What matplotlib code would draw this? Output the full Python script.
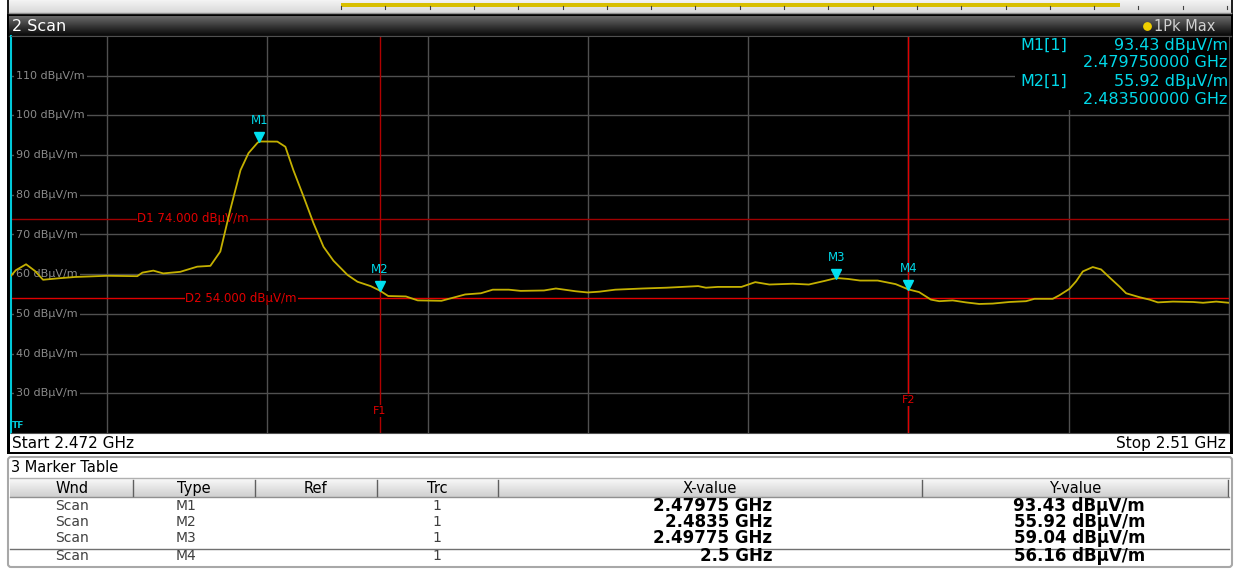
import numpy as np
import matplotlib
matplotlib.use("Agg")
import matplotlib.pyplot as plt
from matplotlib.patches import Rectangle, FancyBboxPatch
import matplotlib.transforms as mtransforms

plt.rcParams['font.family'] = ['DejaVu Sans']

# ---------------- data ----------------
freq_ghz = [2.4720, 2.47215, 2.47247, 2.47275, 2.4730, 2.47353, 2.4740, 2.4750, 2.47594, 2.47610,
            2.47644, 2.47675, 2.47728, 2.47781, 2.47822, 2.47853, 2.47884, 2.47916, 2.47941, 2.47969,
            2.47975, 2.48031, 2.48056, 2.48081, 2.48113, 2.48144, 2.48175, 2.48206, 2.48250, 2.48281,
            2.48322, 2.48350, 2.48377, 2.48432, 2.48469, 2.48543, 2.48580, 2.48617, 2.48666, 2.48703,
            2.48753, 2.48790, 2.48863, 2.48900, 2.48962, 2.48999, 2.49036, 2.49085, 2.49171, 2.49245,
            2.49344, 2.49368, 2.49405, 2.49479, 2.49522, 2.49566, 2.49639, 2.49689, 2.49738, 2.49775,
            2.49812, 2.49849, 2.49904, 2.49960, 2.50000, 2.50033, 2.50070, 2.50096, 2.50138, 2.50179,
            2.50221, 2.50263, 2.50315, 2.50367, 2.50393, 2.50450, 2.50471, 2.50502, 2.50523, 2.50544,
            2.50575, 2.50601, 2.50627, 2.50658, 2.50679, 2.50721, 2.50752, 2.50778, 2.50825, 2.50888,
            2.50919, 2.50960, 2.51000]
level_dbuv = [59.6, 61.0, 62.5, 60.8, 58.6, 59.0, 59.3, 59.6, 59.5, 60.4,
              60.9, 60.2, 60.6, 61.9, 62.1, 65.7, 76.2, 86.2, 90.5, 93.1,
              93.43, 93.4, 92.1, 86.2, 79.5, 72.8, 66.9, 63.4, 59.8, 58.1,
              57.0, 55.9, 54.5, 54.4, 53.4, 53.3, 54.1, 54.9, 55.2, 56.1,
              56.1, 55.8, 55.9, 56.4, 55.7, 55.4, 55.6, 56.1, 56.4, 56.6,
              57.0, 56.6, 56.8, 56.8, 58.0, 57.4, 57.6, 57.4, 58.3, 59.04,
              58.8, 58.4, 58.4, 57.5, 56.16, 55.5, 53.6, 53.2, 53.4, 52.9,
              52.5, 52.6, 53.0, 53.2, 53.8, 53.8, 54.7, 56.3, 58.2, 60.7,
              61.8, 61.2, 59.2, 56.9, 55.2, 54.2, 53.6, 52.9, 53.1, 53.0,
              52.8, 53.1, 52.8]

marker_names = ["M1", "M2", "M3", "M4"]
marker_freq = [2.47975, 2.4835, 2.49775, 2.5]
marker_level = [93.43, 55.92, 59.04, 56.16]
marker_xtext = ["2.47975 GHz", "2.4835 GHz", "2.49775 GHz", "2.5 GHz"]
marker_ytext = ["93.43 dBµV/m", "55.92 dBµV/m", "59.04 dBµV/m", "56.16 dBµV/m"]

limit_names = ["D1", "D2"]
limit_levels = [74.0, 54.0]
freq_lines = ["F1", "F2"]
freq_line_vals = [2.4835, 2.5]

x_start, x_stop = 2.472, 2.51
y_min, y_max = 20, 120
y_ticks = [30, 40, 50, 60, 70, 80, 90, 100, 110]
x_grid = [2.475, 2.480, 2.485, 2.490, 2.495, 2.500, 2.505, 2.510]

table_cols = ["Wnd", "Type", "Ref", "Trc", "X-value", "Y-value"]

# ---------------- figure ----------------
W, H = 1237, 569
fig = plt.figure(figsize=(W / 100, H / 100), dpi=100)
fig.patch.set_facecolor("white")

bg = fig.add_axes([0, 0, 1, 1], zorder=0)
bg.set_xlim(0, W)
bg.set_ylim(H, 0)
bg.axis("off")

def grad(x0, x1, y0, y1, c_top, c_bot, z=1):
    n = 64
    t = np.linspace(0, 1, n)[:, None]
    ct = np.array(matplotlib.colors.to_rgb(c_top))
    cb = np.array(matplotlib.colors.to_rgb(c_bot))
    img = (ct[None, None, :] * (1 - t[..., None]) + cb[None, None, :] * t[..., None])
    img = np.repeat(img, 2, axis=1)
    bg.imshow(img, extent=(x0, x1, y1, y0), aspect="auto", zorder=z, interpolation="bilinear")

# top strip
bg.add_patch(Rectangle((7, 0), 1226, 17, facecolor="#202020", edgecolor="none", zorder=0.5))
grad(9, 1231, 0, 13, "#f4f4f4", "#d8d8d8", z=1)
bg.add_patch(Rectangle((341, 2.5), 779, 4, facecolor="#d8bf00", edgecolor="none", zorder=2))
for tx in np.arange(341, 1230, 44.3):
    bg.plot([tx, tx], [6, 9], color="#404040", lw=0.8, zorder=3)
bg.plot([9, 1231], [12.5, 12.5], color="#909090", lw=1, zorder=3)

# title bar
bg.add_patch(Rectangle((7, 14), 1226, 440, facecolor="#000000", edgecolor="none", zorder=0.6))
grad(9, 1231, 16, 35, "#6a6a6a", "#0a0a0a", z=1)
bg.plot([9, 1231], [35.5, 35.5], color="#4a4a4a", lw=1, zorder=2)
bg.text(12, 26, "2 Scan", color="white", fontsize=11.5, va="center", ha="left", zorder=4)
bg.scatter([1147], [26], s=28, color="#f0d000", zorder=4)
bg.text(1154, 26, "1Pk Max", color="#d0d0d0", fontsize=10.5, va="center", ha="left", zorder=4)

# start/stop bar
bg.add_patch(Rectangle((10, 433.5), 1220, 18.5, facecolor="white", edgecolor="none", zorder=2))
bg.text(12, 443, f"Start {x_start:g} GHz", color="black", fontsize=11, va="center", ha="left", zorder=4)
bg.text(1226, 443, f"Stop {x_stop:g} GHz", color="black", fontsize=11, va="center", ha="right", zorder=4)

# marker table
bg.add_patch(FancyBboxPatch((8, 457), 1224, 110, boxstyle="round,pad=0,rounding_size=3",
                            facecolor="white", edgecolor="#a8a8a8", lw=1.5, zorder=1))
bg.text(11, 467.5, "3 Marker Table", color="black", fontsize=10.5, va="center", ha="left", zorder=4)
grad(10, 1229, 478, 497, "#fafafa", "#cfcfcf", z=2)
bg.plot([10, 1229], [478, 478], color="#b0b0b0", lw=1, zorder=3)
bg.plot([10, 1229], [497, 497], color="#909090", lw=1, zorder=3)
col_sep = [133, 255, 377, 498, 922, 1228]
col_ctr = [72, 194, 315, 437, 710, 1075]
for sx in col_sep:
    bg.plot([sx, sx], [480, 496], color="#606060", lw=1, zorder=3)
for name, cx in zip(table_cols, col_ctr):
    bg.text(cx, 488, name, color="black", fontsize=10.5, ha="center", va="center", zorder=4)
row_y = [506, 522, 538, 556]
bg.plot([10, 1229], [548.5, 548.5], color="#707070", lw=1, zorder=3)
for i in range(4):
    yy = row_y[i]
    bg.text(72, yy, "Scan", color="#404040", fontsize=10, ha="center", va="center", zorder=4)
    bg.text(176, yy, marker_names[i], color="#404040", fontsize=10, ha="left", va="center", zorder=4)
    bg.text(437, yy, "1", color="#404040", fontsize=10, ha="center", va="center", zorder=4)
    bg.text(772, yy, marker_xtext[i], color="black", fontsize=12, fontweight="bold",
            ha="right", va="center", zorder=4)
    bg.text(1145, yy, marker_ytext[i], color="black", fontsize=12, fontweight="bold",
            ha="right", va="center", zorder=4)

# ---------------- main plot ----------------
ax = fig.add_axes([11 / W, (H - 433) / H, 1218 / W, 397 / H], zorder=1)
ax.set_facecolor("black")
ax.set_xlim(x_start, x_stop)
ax.set_ylim(y_min, y_max)
ax.set_xticks(x_grid)
ax.set_yticks(y_ticks)
ax.tick_params(length=0, labelbottom=False, labelleft=False)
ax.grid(True, color="#505050", lw=1)
ax.set_axisbelow(True)
for s in ["top", "right", "bottom"]:
    ax.spines[s].set_color("#505050")
ax.spines["left"].set_color("#00c8d8")
ax.spines["left"].set_linewidth(1.5)

# y labels inside
for yt in y_ticks:
    ax.text(2.47215, yt, f"{yt} dBµV/m", color="#8a8a8a", fontsize=8, ha="left", va="center",
            bbox=dict(facecolor="black", edgecolor="none", pad=1.5), zorder=2)

# limit lines
lim_colors = ["#a00000", "#e00000"]
lim_label_x = [2.47768, 2.47918]
for nm, lv, c, lx in zip(limit_names, limit_levels, lim_colors, lim_label_x):
    ax.axhline(lv, color=c, lw=1, zorder=2)
    ax.text(lx, lv, f"{nm} {lv:.3f} dBµV/m", color="#e00000", fontsize=8.5, ha="center", va="center",
            bbox=dict(facecolor="black", edgecolor="none", pad=0.5), zorder=2.5)

# frequency lines
f_colors = ["#b00000", "#e00000"]
f_label_y = [25.5, 28.3]
for nm, fv, c, fy in zip(freq_lines, freq_line_vals, f_colors, f_label_y):
    ax.axvline(fv, color=c, lw=1, zorder=2)
    ax.text(fv, fy, nm, color="#e00000", fontsize=8, ha="center", va="center",
            bbox=dict(facecolor="black", edgecolor="none", pad=0.5), zorder=2.5)

# trace
ax.plot(freq_ghz, level_dbuv, color="#c4b000", lw=1.3, zorder=3)

# markers
tri_off = mtransforms.offset_copy(ax.transData, fig=fig, x=0, y=4, units="dots")
lab_off = mtransforms.offset_copy(ax.transData, fig=fig, x=0, y=14, units="dots")
for nm, mf, ml in zip(marker_names, marker_freq, marker_level):
    ax.plot([mf], [ml], marker="v", color="#00e0f0", markersize=7, transform=tri_off, zorder=4,
            linestyle="none")
    ax.text(mf, ml, nm, color="#00d8e8", fontsize=8.5, ha="center", va="bottom", transform=lab_off, zorder=4)

# marker info box
ax.add_patch(Rectangle((0.8245, 0.8136), 0.18, 0.19, transform=ax.transAxes,
                       facecolor="black", edgecolor="none", zorder=1.5))
info_rows = [(0.976, f"{marker_names[0]}[1]", marker_ytext[0]),
             (0.932, None, f"{marker_freq[0]:.9f} GHz"),
             (0.886, f"{marker_names[1]}[1]", marker_ytext[1]),
             (0.841, None, f"{marker_freq[1]:.9f} GHz")]
for yy, left, right in info_rows:
    if left:
        ax.text(0.8285, yy, left, color="#00d8e8", fontsize=11.5, ha="left", va="center",
                transform=ax.transAxes, zorder=5)
    ax.text(0.999, yy, right, color="#00d8e8", fontsize=11.5, ha="right", va="center",
            transform=ax.transAxes, zorder=5)

ax.text(0.001, 0.02, "TF", color="#00c8d8", fontsize=6.5, fontweight="bold", ha="left", va="center",
        transform=ax.transAxes, zorder=5)

fig.savefig("out.png", dpi=100, facecolor="white")
